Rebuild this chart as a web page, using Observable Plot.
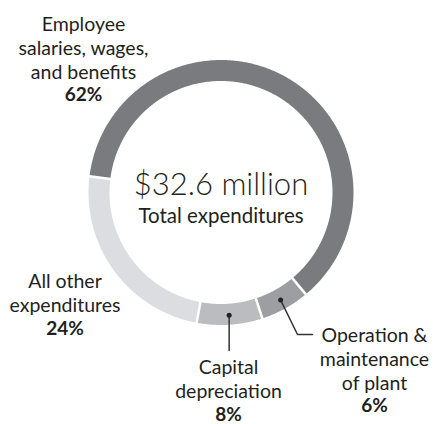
<!DOCTYPE html>
<html>
<head>
<meta charset="utf-8">
<script src="https://cdn.jsdelivr.net/npm/d3@7"></script>
<script src="https://cdn.jsdelivr.net/npm/@observablehq/plot@0.6"></script>
<style>
  html, body { margin: 0; padding: 0; background: #fff; }
  #chart svg { display: block; }
</style>
</head>
<body>
<div id="chart"></div>
<script>
// ---- data ----
const categories = ["Employee\nsalaries, wages,\nand benefits", "Operation &\nmaintenance\nof plant", "Capital\ndepreciation", "All other\nexpenditures"];
const shares = [62, 6, 8, 24];
const totalLabel = "$32.6 million";
const totalCaption = "Total expenditures";

// ---- style / layout ----
const W = 445, H = 424;
const cx = 220.5, cy = 192;          // ring centre in px
const rMid = 122, ringWidth = 21;
const startDeg = -83;
const colors = ["#797b7f", "#9c9ea1", "#bbbcbf", "#dcdde0"];
const font = "Lato, 'Open Sans', sans-serif";
const textColor = "#231f20";
// label placement (px, relative to ring centre)
const labelX    = [-137.5, 153.5, 7.5, -156];
const labelY    = [-145.5, 166, 186, 99.5];
const pctY      = [-98, 213, 222, 136];
const hasLeader = [false, true, true, false];

const pie = d3.pie().sort(null).value(d => d.value)
  .startAngle(startDeg * Math.PI / 180)
  .endAngle(startDeg * Math.PI / 180 + 2 * Math.PI);
const slices = pie(categories.map((c, i) => ({name: c, value: shares[i], i})));

const polar = (a, r) => [r * Math.sin(a), -r * Math.cos(a)];

// arc points along the ring centreline
const arcPts = [];
for (const s of slices) {
  const n = Math.max(4, Math.ceil((s.endAngle - s.startAngle) / (Math.PI / 360)));
  for (let k = 0; k <= n; k++) {
    const a = s.startAngle + (s.endAngle - s.startAngle) * k / n;
    const [x, y] = polar(a, rMid);
    arcPts.push({x, y, i: s.data.i});
  }
}
// white separators at slice boundaries
const seps = slices.map(s => {
  const [x1, y1] = polar(s.startAngle, rMid - ringWidth / 2 - 2);
  const [x2, y2] = polar(s.startAngle, rMid + ringWidth / 2 + 2);
  return {x1, y1, x2, y2};
});
// leader dots at slice mid-angles
const dots = slices.filter(s => hasLeader[s.data.i]).map(s => {
  const a = (s.startAngle + s.endAngle) / 2;
  const [x, y] = polar(a, 123);
  return {x, y, i: s.data.i};
});
// leader polylines
const leaders = [];
for (const d of dots) {
  if (d.i === 2) {
    leaders.push({x: d.x, y: d.y, i: 2}, {x: d.x, y: 158, i: 2});
  } else if (d.i === 1) {
    leaders.push({x: d.x, y: d.y, i: 1}, {x: 76.5, y: 142, i: 1}, {x: 91.5, y: 142, i: 1});
  }
}
const labels = categories.map((c, i) => ({name: c, pct: shares[i] + "%", x: labelX[i], y: labelY[i], py: pctY[i]}));

const chart = Plot.plot({
  width: W, height: H,
  margin: 0,
  x: {domain: [-cx, W - cx], range: [0, W], axis: null},
  y: {domain: [-cy, H - cy], range: [0, H], axis: null},
  style: {fontFamily: font, background: "#fff"},
  marks: [
    Plot.line(arcPts, {x: "x", y: "y", z: "i", stroke: d => colors[d.i], strokeWidth: ringWidth, strokeLinecap: "butt", strokeLinejoin: "round"}),
    Plot.link(seps, {x1: "x1", y1: "y1", x2: "x2", y2: "y2", stroke: "#fff", strokeWidth: 2.5}),
    Plot.line(leaders, {x: "x", y: "y", z: "i", stroke: "#333", strokeWidth: 1.5}),
    Plot.dot(dots, {x: "x", y: "y", r: 2.5, fill: "#222", stroke: null}),
    Plot.text(labels, {x: "x", y: "y", text: "name", fontSize: 19.5, lineHeight: 1.23, fill: textColor, textAnchor: "middle", lineAnchor: "middle"}),
    Plot.text(labels, {x: "x", y: "py", text: "pct", fontSize: 19, fontWeight: "bold", fill: textColor, textAnchor: "middle", lineAnchor: "middle"}),
    Plot.text([totalLabel], {x: () => 0, y: () => -7, text: d => d, fontSize: 31, fontWeight: 300, fill: textColor, textAnchor: "middle", lineAnchor: "middle"}),
    Plot.text([totalCaption], {x: () => 0, y: () => 24, text: d => d, fontSize: 20.5, fill: textColor, textAnchor: "middle", lineAnchor: "middle"})
  ]
});
document.getElementById("chart").appendChild(chart);
</script>
</body>
</html>
